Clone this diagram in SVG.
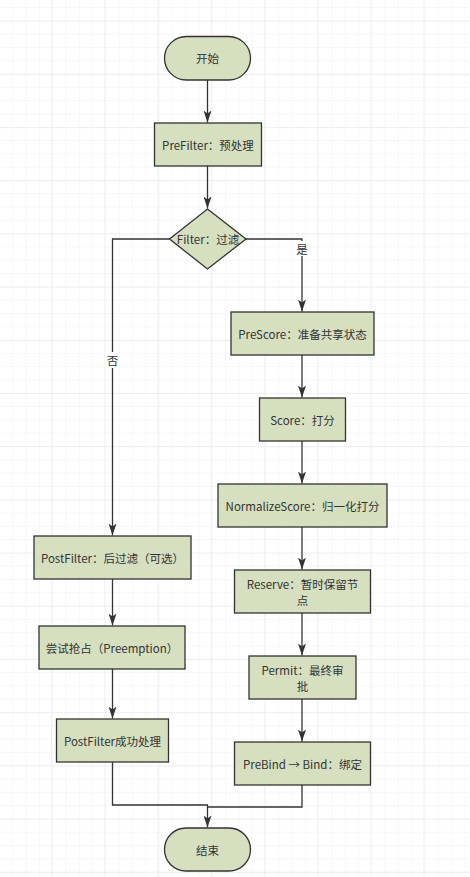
<svg xmlns="http://www.w3.org/2000/svg" width="470" height="877" viewBox="0 0 470 877">
<defs>
<pattern id="minor" width="13.3" height="13.3" patternUnits="userSpaceOnUse" x="0" y="-5.3">
<path d="M13.3 0V13.3M0 13.3H13.3" fill="none" stroke="#efefef" stroke-width="1"/>
</pattern>
<pattern id="major" width="53.2" height="53.2" patternUnits="userSpaceOnUse" x="-1.2" y="-31.5">
<path d="M53.2 0V53.2M0 53.2H53.2" fill="none" stroke="#e6e6e6" stroke-width="1"/>
</pattern>
<marker id="arrow" viewBox="0 0 12 8" refX="12" refY="4" markerWidth="12" markerHeight="8" markerUnits="userSpaceOnUse" orient="auto">
<path d="M0 0L12 4L0 8L3 4Z" fill="#333"/>
</marker>
<style>
.n{fill:#d6dfc0;stroke:#333;stroke-width:1.3}
.t{font-family:"Noto Sans CJK SC","Noto Sans",sans-serif;font-size:11.5px;fill:#333;text-anchor:middle;dominant-baseline:central}
.c{fill:none;stroke:#333;stroke-width:1.3}
.lb{fill:#fff}
</style>
</defs>
<rect width="470" height="877" fill="#fff"/>
<rect width="470" height="877" fill="url(#minor)"/>
<rect width="470" height="877" fill="url(#major)"/>

<g id="connectors">
<path class="c" d="M207.5 80V122.5" marker-end="url(#arrow)"/>
<path class="c" d="M207.5 166V208.5" marker-end="url(#arrow)"/>
<path class="c" d="M169.5 239H112.5V535.5" marker-end="url(#arrow)"/>
<path class="c" d="M246 239H302V311.5" marker-end="url(#arrow)"/>
<path class="c" d="M302 355V397.5" marker-end="url(#arrow)"/>
<path class="c" d="M302 441V483.5" marker-end="url(#arrow)"/>
<path class="c" d="M302 527V569.5" marker-end="url(#arrow)"/>
<path class="c" d="M302 613V655.5" marker-end="url(#arrow)"/>
<path class="c" d="M302 699V741.5" marker-end="url(#arrow)"/>
<path class="c" d="M112.5 579V625.5" marker-end="url(#arrow)"/>
<path class="c" d="M112.5 669V718.5" marker-end="url(#arrow)"/>
<path class="c" d="M112.5 762V805H207.5V827.5" marker-end="url(#arrow)"/>
<path class="c" d="M302 785V807H207.5"/>
<rect class="lb" x="294" y="241" width="16" height="15"/>
<text class="t" x="302" y="248.5">是</text>
<rect class="lb" x="105" y="352" width="16" height="16"/>
<text class="t" x="112.5" y="360">否</text>
</g>

<g id="start">
<rect class="n" x="164.5" y="36.5" width="86" height="43.5" rx="21.75"/>
<text class="t" x="207.5" y="58">开始</text>
</g>
<g id="prefilter">
<rect class="n" x="154.5" y="123" width="107" height="43"/>
<text class="t" x="208" y="144.5">PreFilter：预处理</text>
</g>
<g id="filter">
<path class="n" d="M207.5 209L246 239L207.5 269L169.5 239Z"/>
<text class="t" x="208" y="239">Filter：过滤</text>
</g>
<g id="prescore">
<rect class="n" x="231" y="312" width="143" height="43"/>
<text class="t" x="302.5" y="333.5">PreScore：准备共享状态</text>
</g>
<g id="score">
<rect class="n" x="259.5" y="398" width="86" height="43"/>
<text class="t" x="302.5" y="419.5">Score：打分</text>
</g>
<g id="normalizescore">
<rect class="n" x="218" y="484" width="169" height="43"/>
<text class="t" x="302.5" y="505.5">NormalizeScore：归一化打分</text>
</g>
<g id="reserve">
<rect class="n" x="234.5" y="570" width="136" height="43"/>
<text class="t" x="302.5" y="584">Reserve：暂时保留节</text>
<text class="t" x="302.5" y="599.5">点</text>
</g>
<g id="permit">
<rect class="n" x="249" y="656" width="107" height="43"/>
<text class="t" x="302.5" y="670">Permit：最终审</text>
<text class="t" x="302.5" y="685.5">批</text>
</g>
<g id="prebind">
<rect class="n" x="234.5" y="742" width="136" height="43"/>
<text class="t" x="302.5" y="763.5">PreBind → Bind：绑定</text>
</g>
<g id="postfilter">
<rect class="n" x="34" y="536" width="157" height="43"/>
<text class="t" x="112.5" y="557.5">PostFilter：后过滤（可选）</text>
</g>
<g id="preemption">
<rect class="n" x="39" y="626" width="146" height="43"/>
<text class="t" x="112" y="647.5">尝试抢占（Preemption）</text>
</g>
<g id="postfilter-success">
<rect class="n" x="56.5" y="719" width="112" height="43"/>
<text class="t" x="112.5" y="740.5">PostFilter成功处理</text>
</g>
<g id="end">
<rect class="n" x="164.5" y="828" width="86" height="43" rx="21.5"/>
<text class="t" x="207.5" y="849.5">结束</text>
</g>
</svg>
